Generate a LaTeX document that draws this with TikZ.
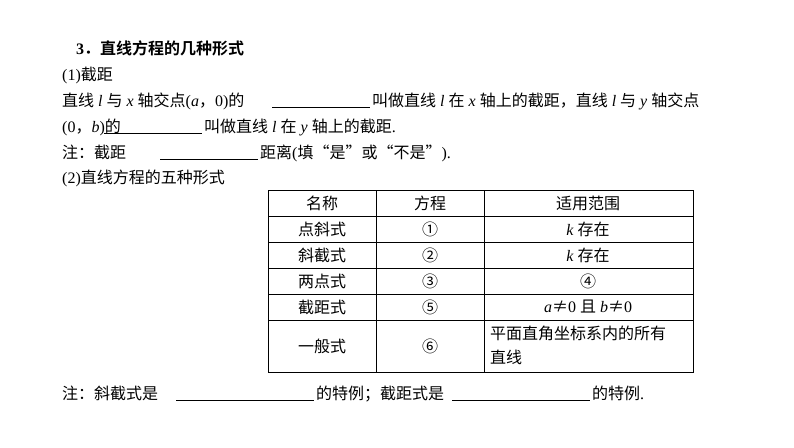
\documentclass[tikz,border=0pt]{standalone}
\usepackage{fontspec}
\setmainfont{Liberation Serif}
\newfontfamily\cjk{Noto Sans CJK SC}
\newfontfamily\cjkb{Noto Sans CJK SC Bold}
\newcommand\C[1]{{\cjk #1}}
\begin{document}
\begin{tikzpicture}[x=1pt,y=-1pt,
  t/.style={anchor=base west,inner sep=0pt,font=\fontsize{16}{19}\selectfont},
  c/.style={inner sep=0pt,font=\fontsize{16}{19}\selectfont,align=center},
  ul/.style={line width=0.6pt}]
\useasboundingbox (0,0) rectangle (794,447);
\node[t] (h1) at (76,54) {\textbf{3}{\cjkb ．直线方程的几种形式}};
\node[t] (h2) at (62,80) {(1)\C{截距}};
\node[t] (l1a) at (62,106) {\C{直线} \textit{l} \C{与} \textit{x} \C{轴交点}(\textit{a}\C{，}0)\C{的}};
\draw[ul] (272,107) coordinate (u1a) -- (370,107) coordinate (u1b);
\node[t] (l1b) at (372,106) {\C{叫做直线} \textit{l} \C{在} \textit{x} \C{轴上的截距，直线} \textit{l} \C{与} \textit{y} \C{轴交点}};
\node[t] (l2a) at (62,132) {(0\C{，}\textit{b})\C{的}};
\draw[ul] (104,133) coordinate (u2a) -- (202,133) coordinate (u2b);
\node[t] (l2b) at (204,132) {\C{叫做直线} \textit{l} \C{在} \textit{y} \C{轴上的截距}.};
\node[t] (l3a) at (62,158) {\C{注：截距}};
\draw[ul] (160,159) coordinate (u3a) -- (258,159) coordinate (u3b);
\node[t] (l3b) at (260,158) {\C{距离}(\C{填“是”或“不是”}).};
\node[t] (h3) at (62,183) {(2)\C{直线方程的五种形式}};
% table
\draw[line width=0.6pt] (268,190) rectangle (693,372);
\foreach \y in {216,242,268,294,320} \draw[line width=0.6pt] (268,\y) -- (693,\y);
\foreach \x in {376,484} \draw[line width=0.6pt] (\x,190) -- (\x,372);
\node[c] (a1) at (322,203) {\C{名称}};
\node[c] (a2) at (430,203) {\C{方程}};
\node[c] (a3) at (588,203) {\C{适用范围}};
\node[c] (b1) at (322,229) {\C{点斜式}};
\node[c] (b2) at (430,229) {\C{①}};
\node[c] (b3) at (588,229) {\textit{k} \C{存在}};
\node[c] (c1) at (322,255) {\C{斜截式}};
\node[c] (c2) at (430,255) {\C{②}};
\node[c] (c3) at (588,255) {\textit{k} \C{存在}};
\node[c] (d1) at (322,281) {\C{两点式}};
\node[c] (d2) at (430,281) {\C{③}};
\node[c] (d3) at (588,281) {\C{④}};
\node[c] (e1) at (322,307) {\C{截距式}};
\node[c] (e2) at (430,307) {\C{⑤}};
\node[c] (e3) at (588,307) {\textit{a}\C{≠}0 \C{且} \textit{b}\C{≠}0};
\node[c] (f1) at (322,346) {\C{一般式}};
\node[c] (f2) at (430,346) {\C{⑥}};
\node[t] (f3a) at (490,339) {\C{平面直角坐标系内的所有}};
\node[t] (f3b) at (490,363) {\C{直线}};
\node[t] (n1) at (62,399) {\C{注：斜截式是}};
\draw[ul] (176,400) coordinate (u4a) -- (314,400) coordinate (u4b);
\node[t] (n2) at (316,399) {\C{的特例；截距式是}};
\draw[ul] (452,400) coordinate (u5a) -- (590,400) coordinate (u5b);
\node[t] (n3) at (592,399) {\C{的特例}.};
\end{tikzpicture}
\end{document}
